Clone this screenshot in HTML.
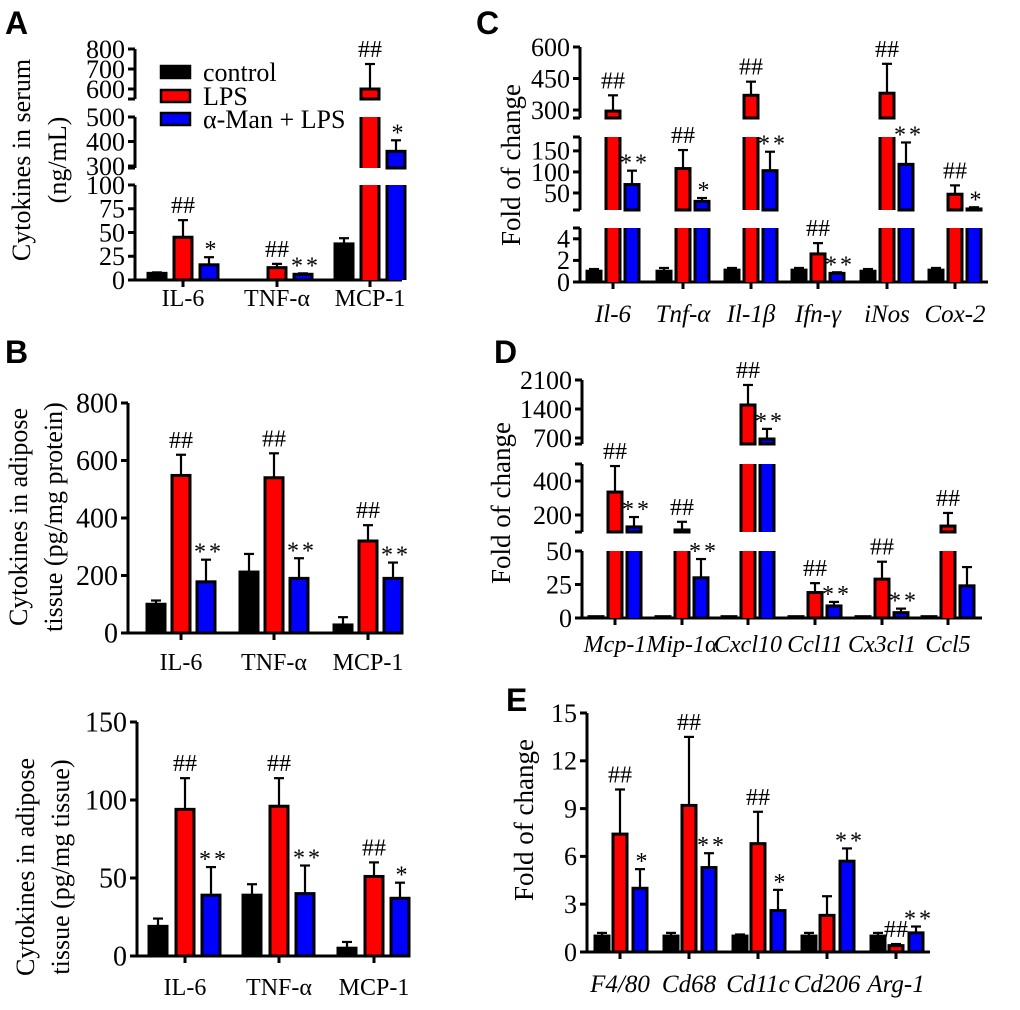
<!DOCTYPE html>
<html><head><meta charset="utf-8"><style>
html,body{margin:0;padding:0;background:#fff}
svg text{font-family:"Liberation Serif",serif;fill:#000}
.let{font-family:"Liberation Sans",sans-serif;font-weight:bold;font-size:32px}
</style></head><body>
<svg id="fig" width="1020" height="1005" viewBox="0 0 1020 1005" xmlns="http://www.w3.org/2000/svg">
<text class="let" x="5" y="34">A</text>
<text class="let" x="5" y="363">B</text>
<text class="let" x="476" y="34">C</text>
<text class="let" x="494" y="363">D</text>
<text class="let" x="506" y="711">E</text>
<g>
<rect x="161" y="66" width="29" height="12" fill="#000" stroke="#000" stroke-width="2.5"/>
<text x="203" y="81" font-size="26">control</text>
<rect x="161" y="90" width="29" height="12" fill="#f00" stroke="#000" stroke-width="2.5"/>
<text x="203" y="105" font-size="26">LPS</text>
<rect x="161" y="113" width="29" height="12" fill="#00f" stroke="#000" stroke-width="2.5"/>
<text x="203" y="128" font-size="26">α-Man + LPS</text>
</g>
</svg>
<script>
// Panel A
const catsA=['IL-6','TNF-α','MCP-1'];
const ctrlA=[7,0,38], ctrlErrA=[8,0,44];
const lpsA=[45,13,600], lpsErrA=[63,17,725];
const manA=[16,6,360], manErrA=[24,7,405];
const sigLpsA=['##','##','##'], sigManA=['*','**','*'];
// Panel B top
const catsB1=['IL-6','TNF-α','MCP-1'];
const ctrlB1=[100,212,28], ctrlErrB1=[113,275,55];
const lpsB1=[548,540,320], lpsErrB1=[620,625,375];
const manB1=[178,190,190], manErrB1=[255,260,245];
const sigLpsB1=['##','##','##'], sigManB1=['**','**','**'];
// Panel B bottom
const catsB2=['IL-6','TNF-α','MCP-1'];
const ctrlB2=[19,39,5], ctrlErrB2=[24,46,9];
const lpsB2=[94,96,51], lpsErrB2=[114,114,60];
const manB2=[39,40,37], manErrB2=[57,58,47];
const sigLpsB2=['##','##','##'], sigManB2=['**','**','*'];
// Panel C
const catsC=['Il-6','Tnf-α','Il-1β','Ifn-γ','iNos','Cox-2'];
const ctrlC=[1,1,1.1,1.1,1,1.1], ctrlErrC=[1.2,1.3,1.3,1.3,1.2,1.3];
const lpsC=[295,108,370,2.6,380,47], lpsErrC=[370,152,435,3.6,520,68];
const manC=[70,30,103,0.8,118,12], manErrC=[103,38,148,0.9,170,16];
const sigLpsC=['##','##','##','##','##','##'], sigManC=['**','*','**','**','**','*'];
// Panel D
const catsD=['Mcp-1','Mip-1α','Cxcl10','Ccl11','Cx3cl1','Ccl5'];
const ctrlD=[1,1,1,1,1,1], ctrlErrD=[1,1,1,1,1,1];
const lpsD=[335,112,1497,19,29,135], lpsErrD=[488,160,1980,26,42,212];
const manD=[130,30,676,9,4,24], manErrD=[188,44,920,12,7,38];
const sigLpsD=['##','##','##','##','##','##'], sigManD=['**','**','**','**','**',''];
// Panel E
const catsE=['F4/80','Cd68','Cd11c','Cd206','Arg-1'];
const ctrlE=[1,1,1,1,1], ctrlErrE=[1.2,1.2,1.1,1.2,1.2];
const lpsE=[7.4,9.2,6.8,2.3,0.4], lpsErrE=[10.2,13.5,8.8,3.5,0.5];
const manE=[4,5.3,2.6,5.7,1.2], manErrE=[5.2,6.2,3.9,6.5,1.6];
const sigLpsE=['##','##','##','','##'], sigManE=['*','**','*','**','**'];

const NS='http://www.w3.org/2000/svg';
const fig=document.getElementById('fig');
function mk(tag,attrs,parent){const e=document.createElementNS(NS,tag);for(const k in attrs)e.setAttribute(k,attrs[k]);(parent||fig).appendChild(e);return e;}

function panel(cfg){
  const g=mk('g',{});
  
  
  const segs=cfg.segs;
  function segFor(v){for(const s of segs){if(v<=s.hi)return s;}return segs[segs.length-1];}
  function map(s,v){return s.pLo+(v-s.lo)*(s.pHi-s.pLo)/(s.hi-s.lo);}
  function y(v){return map(segFor(v),v);}
  segs.forEach((s,i)=>{
    const ax=mk('line',{x1:cfg.ax,x2:cfg.ax,y1:s.pLo,y2:s.pHi,stroke:'#000','stroke-width':3},g);
    
    
    if(i>0){const c=mk('line',{x1:cfg.ax-7,x2:cfg.ax,y1:s.pLo,y2:s.pLo,stroke:'#000','stroke-width':3},g);
      }
    if(i<segs.length-1){const c=mk('line',{x1:cfg.ax-7,x2:cfg.ax,y1:s.pHi,y2:s.pHi,stroke:'#000','stroke-width':3},g);
      }
    s.ticks.forEach(t=>{
      const py=map(s,t);
      const tl=mk('line',{x1:cfg.ax-7,x2:cfg.ax,y1:py,y2:py,stroke:'#000','stroke-width':3},g);
      
      const tx=mk('text',{x:cfg.ax-10,y:py+cfg.tfs*0.34,'text-anchor':'end','font-size':cfg.tfs},g);
      tx.textContent=t;
      
    });
  });
  const y0=y(0);
  const xa=mk('line',{x1:cfg.ax-1.5,x2:cfg.xEnd,y1:y0,y2:y0,stroke:'#000','stroke-width':3},g);
  
  const colors=['#000','#f00','#00f'];
  const sNames=['control','lps','man-lps'];
  cfg.cats.forEach((c,i)=>{
    const cx=cfg.cx[i];
    const tk=mk('line',{x1:cx,x2:cx,y1:y0,y2:y0+7,stroke:'#000','stroke-width':3},g);
    
    const lb=mk('text',{x:cx,y:cfg.labY,'text-anchor':'middle','font-size':cfg.lfs},g);
    if(cfg.italic)lb.setAttribute('font-style','italic');
    lb.textContent=c;
    
    for(let k=0;k<3;k++){
      const v=cfg.vals[k][i], e=cfg.errs[k][i];
      const bx=cx+cfg.off[k]-cfg.w/2;
      segs.forEach(s=>{
        if(v>s.lo){
          const top=map(s,Math.min(v,s.hi));
          if(v<=s.hi){
            const r=mk('rect',{x:bx,y:top,width:cfg.w,height:Math.max(0.5,s.pLo-top),fill:colors[k],stroke:'#000','stroke-width':3},g);
            
          } else {
            const r=mk('rect',{x:bx,y:top,width:cfg.w,height:s.pLo-top,fill:colors[k]},g);
            
            const p=mk('path',{d:'M'+bx+' '+s.pLo+'V'+top+'M'+(bx+cfg.w)+' '+s.pLo+'V'+top,stroke:'#000','stroke-width':3,fill:'none'},g);
            
          }
        }
      });
      if(e>v){
        const et=y(e);
        const el=mk('line',{x1:bx+cfg.w/2,x2:bx+cfg.w/2,y1:y(v),y2:et,stroke:'#000','stroke-width':2.2},g);
        
        const ec=mk('line',{x1:bx+cfg.w/2-5,x2:bx+cfg.w/2+5,y1:et,y2:et,stroke:'#000','stroke-width':2.2},g);
        
      }
      if(k>0){
        const sg=(k===1?cfg.sigL:cfg.sigM)[i];
        if(sg){
          const st=mk('text',{x:bx+cfg.w/2+(k===2?3:0),y:y(Math.max(e,v))-(k===2?0:7),'text-anchor':'middle','font-size':24,'letter-spacing':k===2?'3':'0'},g);
          st.textContent=sg;
          
        }
      }
    }
  });
  cfg.title.forEach((t,j)=>{
    const tx=mk('text',{x:t.x,y:cfg.tY,'text-anchor':'middle','font-size':cfg.titfs,transform:'rotate(-90 '+t.x+' '+cfg.tY+')'},g);
    tx.textContent=t.s;
    
  });
}

panel({name:'panel-a-serum-chart',ax:135,xEnd:402,cats:catsA,cx:[183,277,370],off:[-26,0,26],w:18,
  vals:[ctrlA,lpsA,manA],errs:[ctrlErrA,lpsErrA,manErrA],sigL:sigLpsA,sigM:sigManA,
  segs:[{lo:0,hi:100,pLo:280,pHi:185,ticks:[0,25,50,75,100]},{lo:292,hi:500,pLo:168,pHi:117,ticks:[300,400,500]},{lo:550,hi:800,pLo:99,pHi:49,ticks:[600,700,800]}],
  tfs:26,lfs:24,labY:306,titfs:26,tY:160,title:[{x:30,s:'Cytokines in serum'},{x:66,s:'(ng/mL)'}]});
panel({name:'panel-b-protein-chart',ax:128,xEnd:400,cats:catsB1,cx:[181,274,368],off:[-25,0,25],w:18,
  vals:[ctrlB1,lpsB1,manB1],errs:[ctrlErrB1,lpsErrB1,manErrB1],sigL:sigLpsB1,sigM:sigManB1,
  segs:[{lo:0,hi:800,pLo:633,pHi:403,ticks:[0,200,400,600,800]}],
  tfs:28,lfs:24,labY:670,titfs:26,tY:517,title:[{x:27,s:'Cytokines in adipose'},{x:62,s:'tissue (pg/mg protein)'}]});
panel({name:'panel-b-tissue-chart',ax:137,xEnd:400,cats:catsB2,cx:[185,279,374],off:[-27,0,26],w:18,
  vals:[ctrlB2,lpsB2,manB2],errs:[ctrlErrB2,lpsErrB2,manErrB2],sigL:sigLpsB2,sigM:sigManB2,
  segs:[{lo:0,hi:150,pLo:956,pHi:722,ticks:[0,50,100,150]}],
  tfs:28,lfs:24,labY:995,titfs:26,tY:867,title:[{x:34,s:'Cytokines in adipose'},{x:69,s:'tissue (pg/mg tissue)'}]});
panel({name:'panel-c-fold-chart',ax:580,xEnd:988,cats:catsC,cx:[613,683,751,818,887,955],off:[-19,0,19],w:14,
  vals:[ctrlC,lpsC,manC],errs:[ctrlErrC,lpsErrC,manErrC],sigL:sigLpsC,sigM:sigManC,italic:true,
  segs:[{lo:0,hi:5,pLo:282,pHi:228,ticks:[0,2,4]},{lo:9.5,hi:183,pLo:210,pHi:137,ticks:[50,100,150]},{lo:262,hi:600,pLo:118,pHi:47,ticks:[300,450,600]}],
  tfs:26,lfs:25,labY:322,titfs:27,tY:165,title:[{x:520,s:'Fold of change'}]});
panel({name:'panel-d-fold-chart',ax:582,xEnd:982,cats:catsD,cx:[615,682,748,815,882,948],off:[-19,0,19],w:14,
  vals:[ctrlD,lpsD,manD],errs:[ctrlErrD,lpsErrD,manErrD],sigL:sigLpsD,sigM:sigManD,italic:true,
  segs:[{lo:0,hi:50,pLo:618,pHi:551,ticks:[0,25,50]},{lo:100,hi:500,pLo:532,pHi:464,ticks:[200,400]},{lo:555,hi:2100,pLo:444,pHi:380,ticks:[700,1400,2100]}],
  tfs:26,lfs:24,labY:652,titfs:27,tY:503,title:[{x:510,s:'Fold of change'}]});
panel({name:'panel-e-fold-chart',ax:587,xEnd:930,cats:catsE,cx:[620,689,758,827,896],off:[-18,0,20],w:14,
  vals:[ctrlE,lpsE,manE],errs:[ctrlErrE,lpsErrE,manErrE],sigL:sigLpsE,sigM:sigManE,italic:true,
  segs:[{lo:0,hi:15,pLo:952,pHi:713,ticks:[0,3,6,9,12,15]}],
  tfs:26,lfs:25,labY:992,titfs:27,tY:820,title:[{x:533,s:'Fold of change'}]});
</script>
</body></html>
